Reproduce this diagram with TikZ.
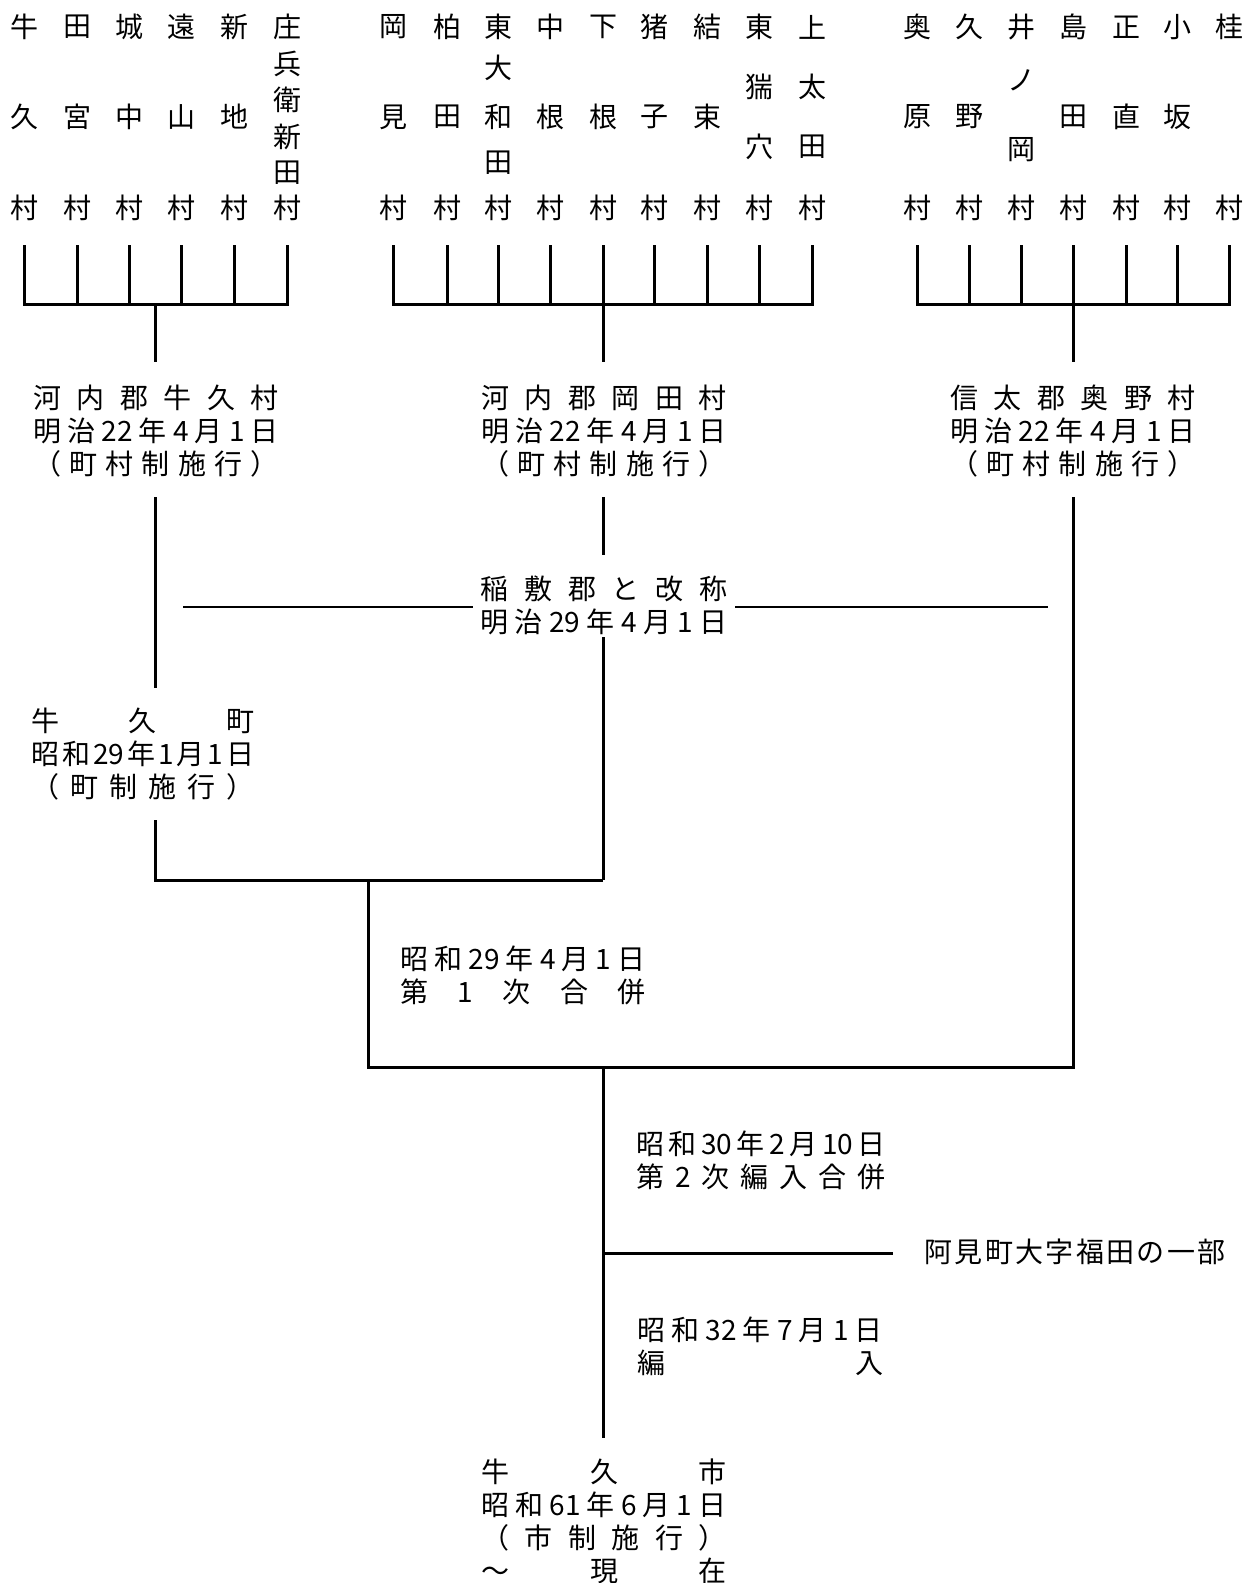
\documentclass[tikz,border=0pt]{standalone}
\usepackage{fontspec}
\setmainfont{Noto Sans CJK JP}
\newcommand{\spreadline}[2]{\hbox to #1{\spaceskip=0pt plus 1fil\relax #2}}
\begin{document}
\begin{tikzpicture}[x=1pt,y=-1pt,
  mura/.style={inner sep=0pt,font=\fontsize{28}{33}\selectfont},
  block/.style={inner sep=0pt,align=left,font=\fontsize{28}{33}\selectfont},
  tree/.style={line width=3pt},
  rename/.style={line width=1.5pt}]
\useasboundingbox (0,0) rectangle (1253,1583);
% 河内郡牛久村の旧村
\foreach \x/\a/\b [count=\i] in {24/牛/久,77/田/宮,129/城/中,181/遠/山,234/新/地}
  { \node[mura] (ua\i) at (\x,27) {\a};
    \node[mura] (ub\i) at (\x,117) {\b};}
\foreach \y/\c [count=\i] in {27/庄,64/兵,100/衛,137/新,173/田}
  { \node[mura] (us\i) at (287,\y) {\c};}
\coordinate (ubar) at (155,304);
\coordinate (ustem) at (155,362);
\foreach \x [count=\i] in {24,77,129,181,234,287}
  { \node[mura] (um\i) at (\x,208) {村};
    \coordinate (ut\i) at (\x,245);}
\foreach \i in {2,...,5} \draw[tree] (ut\i) -- (ut\i |- ubar);
\draw[tree] (ut1) |- (ubar) -| (ut6);
\draw[tree] (ubar) -- (ustem);
% 河内郡岡田村の旧村
\foreach \x/\a/\b [count=\i] in {393/岡/見,447/柏/田,550/中/根,603/下/根,654/猪/子,707/結/束}
  { \node[mura] (oa\i) at (\x,27) {\a};
    \node[mura] (ob\i) at (\x,117) {\b};}
\foreach \y/\c [count=\i] in {27/東,68/大,117/和,163/田}
  { \node[mura] (ow\i) at (498,\y) {\c};}
\foreach \y/\c/\d [count=\i] in {27/東/上,87/猯/太,147/穴/田}
  { \node[mura] (oh\i) at (759,\y) {\c};
    \node[mura] (ok\i) at (812,\y) {\d};}
\coordinate (obar) at (603,304);
\coordinate (ostem) at (603,362);
\foreach \x [count=\i] in {393,447,498,550,603,654,707,759,812}
  { \node[mura] (om\i) at (\x,208) {村};
    \coordinate (ot\i) at (\x,245);}
\foreach \i in {2,...,8} \draw[tree] (ot\i) -- (ot\i |- obar);
\draw[tree] (ot1) |- (obar) -| (ot9);
\draw[tree] (obar) -- (ostem);
% 信太郡奥野村の旧村
\foreach \x/\a/\b [count=\i] in {917/奥/原,969/久/野,1073/島/田,1126/正/直,1177/小/坂}
  { \node[mura] (sa\i) at (\x,27) {\a};
    \node[mura] (sb\i) at (\x,117) {\b};}
\foreach \y/\c [count=\i] in {27/井,80/ノ,150/岡}
  { \node[mura] (si\i) at (1021,\y) {\c};}
\node[mura] (sk) at (1229,27) {桂};
\coordinate (sbar) at (1073,304);
\coordinate (sstem) at (1073,362);
\foreach \x [count=\i] in {917,969,1021,1073,1126,1177,1229}
  { \node[mura] (sm\i) at (\x,208) {村};
    \coordinate (st\i) at (\x,245);}
\foreach \i in {2,...,6} \draw[tree] (st\i) -- (st\i |- sbar);
\draw[tree] (st1) |- (sbar) -| (st7);
\draw[tree] (sbar) -- (sstem);
% 明治22年
\node[block] (ushiku) at (156,431) {\spreadline{246pt}{河 内 郡 牛 久 村}\\ \spreadline{246pt}{明 治 22 年 4 月 1 日}\\ \spreadline{246pt}{（ 町 村 制 施 行 ）}};
\node[block] (okada) at (604,431) {\spreadline{246pt}{河 内 郡 岡 田 村}\\ \spreadline{246pt}{明 治 22 年 4 月 1 日}\\ \spreadline{246pt}{（ 町 村 制 施 行 ）}};
\node[block] (okuno) at (1073,431) {\spreadline{246pt}{信 太 郡 奥 野 村}\\ \spreadline{246pt}{明 治 22 年 4 月 1 日}\\ \spreadline{246pt}{（ 町 村 制 施 行 ）}};
% 明治29年
\node[block] (inashiki) at (604,605) {\spreadline{247pt}{稲 敷 郡 と 改 称}\\ \spreadline{247pt}{明 治 29 年 4 月 1 日}};
\coordinate (rn1) at (183,607);
\coordinate (rn2) at (473,607);
\coordinate (rn3) at (735,607);
\coordinate (rn4) at (1048,607);
\draw[rename] (rn1) -- (rn2);
\draw[rename] (rn3) -- (rn4);
% 昭和29年
\node[block] (ushikumachi) at (143,754) {\spreadline{223pt}{牛 久 町}\\ \spreadline{223pt}{昭 和 29 年 1 月 1 日}\\ \spreadline{223pt}{（ 町 制 施 行 ）}};
\node[block] (gappei1) at (523,975) {\spreadline{245pt}{昭 和 29 年 4 月 1 日}\\ \spreadline{245pt}{第 1 次 合 併}};
\coordinate (u1) at (155,497);
\coordinate (u2) at (155,688);
\coordinate (u3) at (155,820);
\coordinate (o1) at (603,497);
\coordinate (o2) at (603,555);
\coordinate (o3) at (603,637);
\coordinate (j1) at (603,880);
\coordinate (s1) at (1073,497);
\coordinate (j2) at (368,880);
\coordinate (j3) at (603,1067);
\draw[tree] (u1) -- (u2);
\draw[tree] (o1) -- (o2);
\draw[tree] (u3) |- (j1);
\draw[tree] (o3) -- (j1);
\draw[tree] (j2) |- (j3) -| (s1);
% 昭和30年以降
\coordinate (fk) at (603,1253);
\coordinate (fk2) at (893,1253);
\coordinate (cend) at (603,1438);
\draw[tree] (j3) -- (cend);
\draw[tree] (fk) -- (fk2);
\node[block] (gappei2) at (761,1160) {\spreadline{250pt}{昭 和 30 年 2 月 10 日}\\ \spreadline{250pt}{第 2 次 編 入 合 併}};
\node[mura] (fukuda) at (1075,1252) {\spreadline{301pt}{阿 見 町 大 字 福 田 の 一 部}};
\node[block] (hennyu) at (760,1346) {\spreadline{246pt}{昭 和 32 年 7 月 1 日}\\ \spreadline{246pt}{編 入}};
\node[block] (ushikushi) at (604,1521) {\spreadline{245pt}{牛 久 市}\\ \spreadline{245pt}{昭 和 61 年 6 月 1 日}\\ \spreadline{245pt}{（ 市 制 施 行 ）}\\ \spreadline{245pt}{〜 現 在}};
\end{tikzpicture}
\end{document}
